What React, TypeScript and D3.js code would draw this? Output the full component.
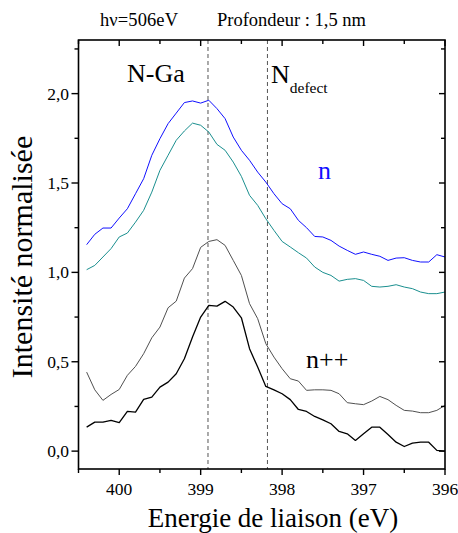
import React from "react";
import * as d3 from "d3";

const energies = [
  400.4, 400.3, 400.2, 400.1, 400.0, 399.9, 399.8, 399.7, 399.6, 399.5,
  399.4, 399.3, 399.2, 399.1, 399.0, 398.9, 398.8, 398.7, 398.6, 398.5,
  398.4, 398.3, 398.2, 398.1, 398.0, 397.9, 397.8, 397.7, 397.6, 397.5,
  397.4, 397.3, 397.2, 397.1, 397.0, 396.9, 396.8, 396.7, 396.6, 396.5,
  396.4, 396.3, 396.2, 396.1, 396.0,
];

const nBlue = [
  1.155, 1.213, 1.248, 1.248, 1.304, 1.356, 1.44, 1.524, 1.655, 1.748,
  1.832, 1.891, 1.95, 1.959, 1.947, 1.963, 1.916, 1.86, 1.757, 1.683,
  1.627, 1.561, 1.505, 1.44, 1.384, 1.356, 1.291, 1.25, 1.201, 1.198,
  1.179, 1.147, 1.123, 1.101, 1.114, 1.101, 1.09, 1.067, 1.08, 1.082,
  1.067, 1.058, 1.058, 1.099, 1.086,
];

const nTeal = [
  1.015, 1.039, 1.086, 1.133, 1.198, 1.22, 1.281, 1.347, 1.449, 1.571,
  1.655, 1.739, 1.791, 1.835, 1.823, 1.785, 1.716, 1.683, 1.617, 1.537,
  1.431, 1.375, 1.3, 1.235, 1.173, 1.142, 1.11, 1.08, 1.03, 1.0,
  0.983, 0.951, 0.961, 0.965, 0.955, 0.922, 0.918, 0.922, 0.931, 0.918,
  0.909, 0.89, 0.881, 0.881, 0.89,
];

const nppGray = [
  0.442, 0.343, 0.284, 0.317, 0.345, 0.424, 0.474, 0.545, 0.634, 0.694,
  0.802, 0.839, 0.968, 1.021, 1.14, 1.173, 1.183, 1.151, 1.067, 0.983,
  0.825, 0.741, 0.601, 0.526, 0.461, 0.405, 0.392, 0.34, 0.343, 0.343,
  0.34, 0.321, 0.271, 0.265, 0.26, 0.28, 0.306, 0.288, 0.256, 0.228,
  0.224, 0.215, 0.215, 0.228, 0.256,
];

const nppBlack = [
  0.134, 0.162, 0.162, 0.172, 0.159, 0.222, 0.218, 0.289, 0.302, 0.358,
  0.386, 0.433, 0.517, 0.638, 0.75, 0.815, 0.811, 0.838, 0.806, 0.746,
  0.573, 0.47, 0.362, 0.343, 0.321, 0.288, 0.233, 0.222, 0.194, 0.175,
  0.153, 0.11, 0.097, 0.06, 0.097, 0.134, 0.134, 0.093, 0.05, 0.026,
  0.045, 0.05, 0.05, 0.004, 0.0,
];

const xMajorTicks = [400, 399, 398, 397, 396];
const xMinorTicks = [400.5, 399.5, 398.5, 397.5, 396.5];
const yMajorTicks = [0, 0.5, 1.0, 1.5, 2.0];
const yMinorTicks = [-0.25, 0.25, 0.75, 1.25, 1.75, 2.25];
const refLines = [398.91, 398.18];

const seriesList = [
  { name: "n++ thin", values: nppGray, color: "#505050", width: 1 },
  { name: "n++", values: nppBlack, color: "#000000", width: 1.3 },
  { name: "n teal", values: nTeal, color: "#1a8f8f", width: 1 },
  { name: "n", values: nBlue, color: "#1010ff", width: 1 },
];

const FONT = "'Liberation Serif', 'Times New Roman', serif";

export default function App() {
  const left = 78.5, right = 445, top = 40, bottom = 469;
  const x = d3.scaleLinear().domain([400.5, 396]).range([left, right]);
  const y = d3.scaleLinear().domain([-0.1, 2.3]).range([bottom, top]);
  const line = d3
    .line<number>()
    .x((_, i) => x(energies[i]))
    .y((d) => y(d));
  const fmt = (v: number) => d3.format(".1f")(v).replace(".", ",");
  const yMinorVis = yMinorTicks.filter((v) => y(v) >= top && y(v) <= bottom);

  return (
    <svg
      width={458}
      height={533}
      style={{ position: "absolute", left: 0, top: 0, background: "#fff" }}
      fontFamily={FONT}
    >
      <rect x={0} y={0} width={458} height={533} fill="#fff" />
      {/* header */}
      <text x={100} y={26} fontSize={18.5} textLength={78} lengthAdjust="spacing">hν=506eV</text>
      <text x={217} y={26} fontSize={18.5}>Profondeur : 1,5 nm</text>

      {/* reference dashed lines */}
      {refLines.map((e) => (
        <line
          key={e}
          x1={x(e)}
          x2={x(e)}
          y1={top}
          y2={bottom}
          stroke="#555"
          strokeWidth={1}
          strokeDasharray="4,3"
        />
      ))}

      {/* curves */}
      {seriesList.map((s) => (
        <path
          key={s.name}
          d={line(s.values) || ""}
          fill="none"
          stroke={s.color}
          strokeWidth={s.width}
          strokeLinejoin="round"
        />
      ))}

      {/* frame */}
      <rect
        x={left}
        y={top}
        width={right - left}
        height={bottom - top}
        fill="none"
        stroke="#000"
        strokeWidth={1.6}
      />

      {/* x ticks */}
      {xMajorTicks.map((v) => (
        <g key={"xM" + v}>
          <line x1={x(v)} x2={x(v)} y1={bottom} y2={bottom + 6} stroke="#000" strokeWidth={1.4} />
          <line x1={x(v)} x2={x(v)} y1={top} y2={top + 6} stroke="#000" strokeWidth={1.4} />
          <text x={x(v)} y={495} fontSize={17.5} textAnchor="middle">
            {v}
          </text>
        </g>
      ))}
      {xMinorTicks.map((v) => (
        <g key={"xm" + v}>
          <line x1={x(v)} x2={x(v)} y1={bottom} y2={bottom + 4} stroke="#000" strokeWidth={1.4} />
          <line x1={x(v)} x2={x(v)} y1={top} y2={top + 4} stroke="#000" strokeWidth={1.4} />
        </g>
      ))}

      {/* y ticks */}
      {yMajorTicks.map((v) => (
        <g key={"yM" + v}>
          <line x1={left - 7} x2={left} y1={y(v)} y2={y(v)} stroke="#000" strokeWidth={1.4} />
          <line x1={right - 6} x2={right} y1={y(v)} y2={y(v)} stroke="#000" strokeWidth={1.4} />
          <text x={69} y={y(v) + 6} fontSize={17.5} textAnchor="end">
            {fmt(v)}
          </text>
        </g>
      ))}
      {yMinorVis.map((v) => (
        <g key={"ym" + v}>
          <line x1={left - 4} x2={left} y1={y(v)} y2={y(v)} stroke="#000" strokeWidth={1.4} />
          <line x1={right - 4} x2={right} y1={y(v)} y2={y(v)} stroke="#000" strokeWidth={1.4} />
        </g>
      ))}

      {/* axis titles */}
      <text x={273} y={527} fontSize={27} textAnchor="middle">
        Energie de liaison (eV)
      </text>
      <text
        transform={`translate(32, 257) rotate(-90)`}
        fontSize={30}
        textAnchor="middle"
      >
        Intensité normalisée
      </text>

      {/* annotations */}
      <text x={127} y={82} fontSize={26}>N-Ga</text>
      <text x={271} y={83} fontSize={26}>
        N
        <tspan fontSize={15.5} dy={9.5}>defect</tspan>
      </text>
      <text x={318} y={179} fontSize={26} fill="#1010ff">n</text>
      <text x={306} y={368} fontSize={26}>n++</text>
    </svg>
  );
}
